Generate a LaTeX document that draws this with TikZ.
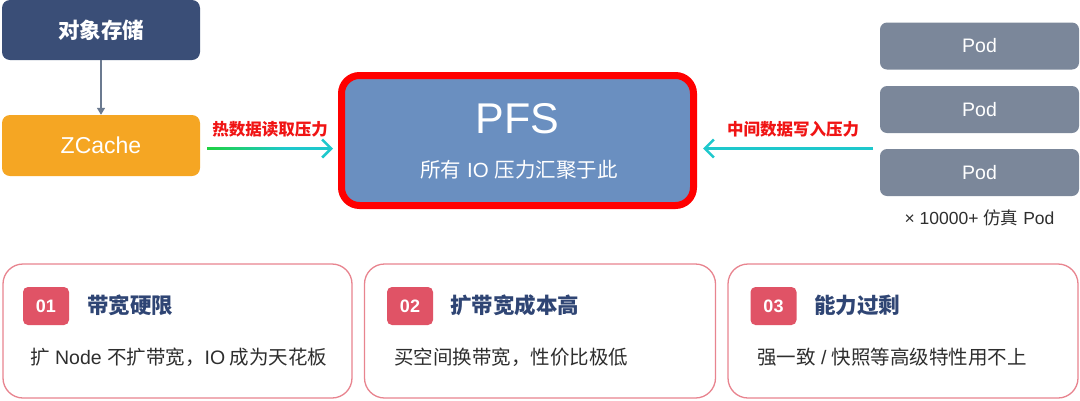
\documentclass[tikz,border=0pt]{standalone}
\usepackage{fontspec}
\setmainfont{Noto Sans CJK SC}
\newfontfamily\lat{Liberation Sans}
\usetikzlibrary{arrows.meta}
\definecolor{navybox}{HTML}{3A4E77}
\definecolor{orangebox}{HTML}{F5A623}
\definecolor{pfsfill}{HTML}{6A8FC0}
\definecolor{pfsred}{HTML}{FF0000}
\definecolor{podfill}{HTML}{7B879A}
\definecolor{cardline}{HTML}{E8848F}
\definecolor{badgefill}{HTML}{E05366}
\definecolor{titlenavy}{HTML}{2F4574}
\definecolor{bodytext}{HTML}{2E2E2E}
\definecolor{grayarrow}{HTML}{6B7A90}
\definecolor{cyanarrow}{HTML}{1EC8CC}
\definecolor{greenarrow}{HTML}{1FD140}
\definecolor{labelred}{HTML}{F01414}
\newcommand\myfs[1]{\fontsize{#1}{#1}\selectfont}
\tikzset{
  topbox/.style={rounded corners=8pt, minimum width=198pt, inner sep=0pt, text=white},
  podbox/.style={fill=podfill, rounded corners=7pt, minimum width=199pt, minimum height=47pt, inner sep=0pt, text=white, font=\lat\myfs{19.5}},
  cardbox/.style={draw=cardline, line width=1.3pt, fill=white, rounded corners=20pt, minimum height=134pt, inner sep=0pt},
  badge/.style={fill=badgefill, rounded corners=5pt, minimum width=46pt, minimum height=38pt, inner sep=0pt, text=white, font=\lat\bfseries\myfs{18}},
  cardtitle/.style={anchor=west, inner sep=0pt, text=titlenavy, font=\bfseries\myfs{21.5}},
  cardbody/.style={anchor=west, inner sep=0pt, text=bodytext, font=\myfs{19.5}},
  flowlabel/.style={inner sep=0pt, text=labelred, font=\bfseries\myfs{16.5}},
  flowarrow/.style={draw=cyanarrow, line width=2.6pt, -{Straight Barb[length=9pt,width=18pt]}},
}
\begin{document}
\begin{tikzpicture}[x=1pt,y=-1pt]
\useasboundingbox (0,0) rectangle (1080,400);
% top left boxes
\node[topbox, fill=navybox, minimum height=60pt, font=\bfseries\myfs{21.5}] (obj) at (101,30) {对象存储};
\node[topbox, fill=orangebox, minimum height=61pt, font=\lat\myfs{23}] (zc) at (101,145.5) {ZCache};
\draw[grayarrow, line width=1.5pt, -{Triangle[length=7pt,width=8pt]}] (obj.south) -- (zc.north);
% PFS
\node[draw=pfsred, line width=7pt, fill=pfsfill, rounded corners=18pt, minimum width=352pt, minimum height=130pt, inner sep=0pt] (pfs) at (517.5,140.5) {};
\node[inner sep=0pt, text=white, font=\lat\myfs{43}] (pfst) at (517.5,119) {PFS};
\node[inner sep=0pt, text=white, font=\myfs{20.5}] (pfss) at (519,170) {所有{\lat{} IO }压力汇聚于此};
% pods
\node[podbox] (pod1) at (979.5,46) {Pod};
\node[podbox] (pod2) at (979.5,109.5) {Pod};
\node[podbox] (pod3) at (979.5,172.5) {Pod};
\node[inner sep=0pt, text=bodytext, font=\myfs{17.5}] (podnote) at (979.5,218) {{\lat × 10000+ }仿真{\lat{} Pod}};
% arrows
\coordinate (la) at (207,148.5);
\coordinate (ra) at (873,148.5);
\draw[flowarrow] (la) -- ([xshift=-5pt]la -| pfs.west);
\shade[left color=greenarrow, right color=cyanarrow] (207,147.2) rectangle (285,149.8);
\draw[flowarrow] (ra) -- ([xshift=6pt]ra -| pfs.east);
\node[flowlabel] (ll) at (270,129) {热数据读取压力};
\node[flowlabel] (rl) at (793,129) {中间数据写入压力};
% cards
\node[cardbox, minimum width=349pt] (c1) at (177.5,331) {};
\node[cardbox, minimum width=351pt] (c2) at (540,331) {};
\node[cardbox, minimum width=350pt] (c3) at (903,331) {};
\node[badge] (b1) at (46,306) {01};
\node[badge] (b2) at (410,306) {02};
\node[badge] (b3) at (773.5,306) {03};
\node[cardtitle] (t1) at (87,305) {带宽硬限};
\node[cardtitle] (t2) at (450,305) {扩带宽成本高};
\node[cardtitle] (t3) at (814,305) {能力过剩};
\node[cardbody] (d1) at (30,357) {扩{\lat{} Node }不扩带宽，{\lat IO} 成为天花板};
\node[cardbody] (d2) at (394,357) {买空间换带宽，性价比极低};
\node[cardbody] (d3) at (757,357) {强一致{\lat{} / }快照等高级特性用不上};
\end{tikzpicture}
\end{document}
